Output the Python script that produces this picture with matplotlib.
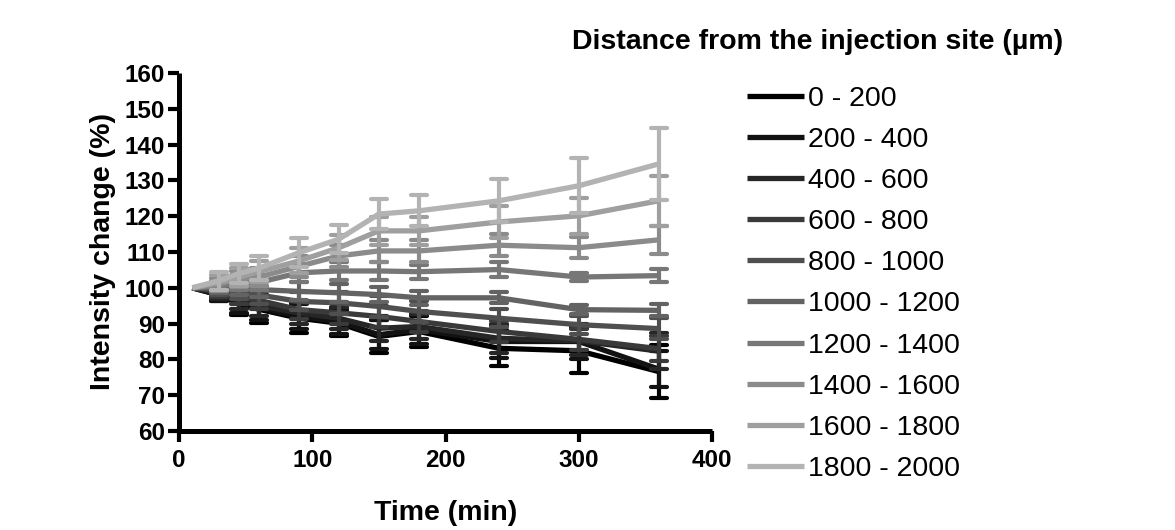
import matplotlib
matplotlib.use("Agg")
import matplotlib.pyplot as plt
from matplotlib.markers import MarkerStyle

plt.rcParams['font.family'] = ['Liberation Sans', 'DejaVu Sans']

times = [10, 30, 45, 60, 90, 120, 150, 180, 240, 300, 360]

labels = ["0 - 200", "200 - 400", "400 - 600", "600 - 800", "800 - 1000",
          "1000 - 1200", "1200 - 1400", "1400 - 1600", "1600 - 1800", "1800 - 2000"]

colors = ["#000000", "#121212", "#262626", "#3a3a3a", "#4f4f4f",
          "#636363", "#777777", "#8b8b8b", "#9f9f9f", "#b3b3b3"]

v_0_200 = [100, 98, 95.5, 94, 91.5, 90.1, 86.4, 87.8, 83.1, 82.4, 76.6]
v_200_400 = [100, 98, 96, 94.5, 92, 90.6, 86.9, 88.3, 85, 85, 77.3]
v_400_600 = [100, 98.5, 96.5, 95, 93, 91.5, 88.7, 89.2, 85.9, 85.2, 82.3]
v_600_800 = [100, 99, 97.5, 96.5, 93.9, 93, 92, 90.6, 87.8, 85.6, 83]
v_800_1000 = [100, 99.5, 99, 98, 96.2, 95.8, 94.8, 93.4, 91.5, 89.7, 88.6]
v_1000_1200 = [100, 100, 100, 99.5, 99, 98.6, 98.1, 97.2, 97.2, 93.9, 93.7]
v_1200_1400 = [100, 100.5, 101.5, 101.5, 104.2, 104.7, 104.7, 104.5, 105.1, 103, 103.4]
v_1400_1600 = [100, 101, 102.5, 103, 106, 108.9, 110.3, 110.3, 111.9, 111.2, 113.4]
v_1600_1800 = [100, 101.5, 103, 104.5, 107.5, 111.2, 115.9, 115.9, 118.4, 120.1, 124.3]
v_1800_2000 = [100, 102, 104, 105.5, 109.8, 113.6, 120.6, 121.5, 124.3, 128.5, 134.6]

e_0_200 = [0, 1.8, 3, 3.9, 4.2, 3.7, 4.7, 4.2, 5, 6.3, 7.5]
e_200_400 = [0, 1.8, 3, 3.5, 3.5, 3.5, 4, 4, 4.5, 5, 5]
e_400_600 = [0, 1.5, 2.5, 3, 3, 3, 3.5, 3.5, 4, 4, 5]
e_600_800 = [0, 1.5, 2, 2.5, 2.5, 3, 3, 3, 3, 3, 3.5]
e_800_1000 = [0, 1.5, 2, 2.5, 2.5, 3, 3, 3, 2.5, 2.5, 3]
e_1000_1200 = [0, 1.5, 2, 2, 2.5, 2.5, 2, 2, 1.5, 1.2, 1.7]
e_1200_1400 = [0, 1.5, 2, 2, 2.5, 2.5, 2.5, 2, 2, 1, 1.8]
e_1400_1600 = [0, 1.8, 2.2, 2.5, 3, 3, 3, 3, 3, 3, 4]
e_1600_1800 = [0, 2, 2.5, 3, 3.5, 3.5, 4, 4, 4.4, 5, 7]
e_1800_2000 = [0, 2.5, 2.7, 3.4, 4, 4, 4.2, 4.3, 6, 7.7, 10]

values = [v_0_200, v_200_400, v_400_600, v_600_800, v_800_1000,
          v_1000_1200, v_1200_1400, v_1400_1600, v_1600_1800, v_1800_2000]
errors = [e_0_200, e_200_400, e_400_600, e_600_800, e_800_1000,
          e_1000_1200, e_1200_1400, e_1400_1600, e_1600_1800, e_1800_2000]

fig = plt.figure(figsize=(11.75, 5.3), dpi=100)
ax = fig.add_axes([179/1175, 1-431/530, (712-179)/1175, (431-73)/530])

handles = []
for i, (lab, col, v, e) in enumerate(zip(labels, colors, values, errors)):
    z = 2 + i * 0.1
    ln, = ax.plot(times, v, color=col, lw=3.8, zorder=z, label=lab,
                  solid_capstyle='butt')
    handles.append(ln)
    eb = ax.errorbar(times[1:], v[1:], yerr=e[1:], fmt='none', ecolor=col,
                     elinewidth=3.0, capsize=6, capthick=3.0, zorder=z)
    for cl in eb[1]:
        cl.set_marker(MarkerStyle('_', capstyle='round'))
    for lc in eb[2]:
        lc.set_capstyle('butt')

ax.set_xlim(0, 400)
ax.set_ylim(60, 160)
ax.set_xticks([0, 100, 200, 300, 400])
ax.set_yticks(range(60, 161, 10))

for s in ['top', 'right']:
    ax.spines[s].set_visible(False)
for s in ['left', 'bottom']:
    ax.spines[s].set_linewidth(3.6)
    ax.spines[s].set_capstyle('butt')

ax.tick_params(axis='both', direction='out', length=8, width=3.0,
               labelsize=17.5)
ax.tick_params(axis='x', pad=5)
ax.tick_params(axis='y', pad=2)
for t in ax.get_xticklabels() + ax.get_yticklabels():
    t.set_fontweight('bold')

ax.set_xlabel("Time (min)", fontsize=20.5, fontweight='bold', labelpad=20)
ax.set_ylabel("Intensity change (%)", fontsize=20.5, fontweight='bold', labelpad=6)

leg = fig.legend(handles=handles, loc='upper left',
                 bbox_to_anchor=(747/1175, 1-86/530),
                 frameon=False, fontsize=20.5, handlelength=2.0,
                 handletextpad=0.15, labelspacing=0.53, borderpad=0,
                 borderaxespad=0)
for lh in leg.get_lines():
    lh.set_linewidth(3.8)

fig.text(818/1175, 1-42/530, "Distance from the injection site (µm)",
         ha='center', va='center', fontsize=20.5, fontweight='bold')

fig.savefig("out.png", dpi=100)
